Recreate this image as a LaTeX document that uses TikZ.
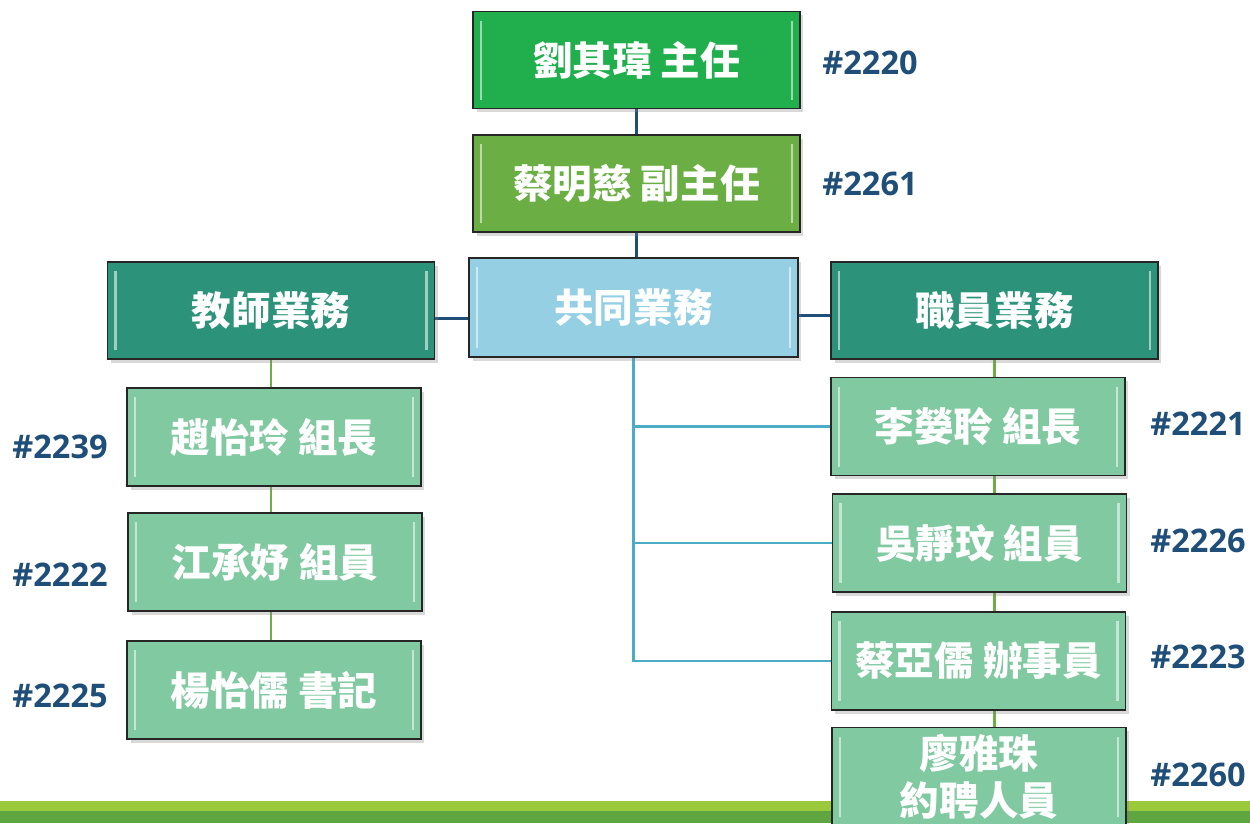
\documentclass[tikz,border=0pt]{standalone}
\usepackage{fontspec}
\usepackage{xcolor}
\usepackage{tikz}
\usetikzlibrary{shadows,backgrounds}
\newfontfamily\cjk{Noto Sans CJK TC}
\newfontfamily\numfont{Open Sans}
\definecolor{chiefgreen}{HTML}{21AF4E}
\definecolor{vicegreen}{HTML}{6BAE44}
\definecolor{commonblue}{HTML}{94CFE3}
\definecolor{deptteal}{HTML}{2C937A}
\definecolor{staffgreen}{HTML}{80C9A1}
\definecolor{navyline}{HTML}{1F4E79}
\definecolor{skyline}{HTML}{4BACC6}
\definecolor{barlight}{HTML}{9ACA3C}
\definecolor{bardark}{HTML}{5FA540}

\begin{document}
\begin{tikzpicture}[x=0.02cm,y=-0.02cm]
    \tikzstyle{box} = [draw=black!85,line width=0.8pt,text=white,inner sep=0pt,
        font=\cjk\bfseries\fontsize{22.5}{27}\selectfont,align=center,
        drop shadow={shadow xshift=0.07cm,shadow yshift=-0.07cm,opacity=0.3},
        path picture={
            \draw[white,opacity=0.55,line width=1.3pt]
                ([xshift=0.16cm,yshift=-0.18cm]path picture bounding box.north west) --
                ([xshift=0.16cm,yshift=0.18cm]path picture bounding box.south west);
            \draw[white,opacity=0.55,line width=1.3pt]
                ([xshift=-0.16cm,yshift=-0.18cm]path picture bounding box.north east) --
                ([xshift=-0.16cm,yshift=0.18cm]path picture bounding box.south east);
        }]
    \tikzstyle{head} = [box,minimum width=6.54cm,minimum height=1.94cm]
    \tikzstyle{member} = [box,fill=staffgreen,minimum width=5.88cm,minimum height=1.96cm]
    \tikzstyle{ext} = [font=\numfont\bfseries\fontsize{18.5}{22}\selectfont,text=navyline]
    \useasboundingbox (0,0) rectangle (1250,823);

    \node[head,fill=chiefgreen] at (636.5,60) (chief) {劉其瑋 主任};
    \node[head,fill=vicegreen] at (636.5,183.5) (vice) {蔡明慈 副主任};
    \node[head,fill=commonblue,minimum width=6.58cm,minimum height=1.98cm] at (633.5,307.5) (common) {共同業務};
    \node[head,fill=deptteal] at (271,310.5) (teacher) {教師業務};
    \node[head,fill=deptteal] at (994.5,310.5) (staff) {職員業務};

    \node[member] at (274,437) (zhao) {趙怡玲 組長};
    \node[member] at (275,562) (jiang) {江承妤 組員};
    \node[member] at (274,690) (yang) {楊怡儒 書記};

    \node[member] at (978,426.5) (li) {李嫈聆 組長};
    \node[member] at (979.5,543) (wu) {吳靜玟 組員};
    \node[member] at (978.5,661) (cai) {蔡亞儒 辦事員};
    \node[member] at (979,776.5) (liao) {廖雅珠\\約聘人員};

    \node[ext] at (870,63) (e2220) {\#2220};
    \node[ext] at (870,184) (e2261) {\#2261};
    \node[ext] at (60,447) (e2239) {\#2239};
    \node[ext] at (60,575) (e2222) {\#2222};
    \node[ext] at (60,696) (e2225) {\#2225};
    \node[ext] at (1198,424) (e2221) {\#2221};
    \node[ext] at (1198,541) (e2226) {\#2226};
    \node[ext] at (1198,657) (e2223) {\#2223};
    \node[ext] at (1198,775) (e2260) {\#2260};

    \begin{scope}[on background layer]
    % bottom bar
    \fill[barlight] (0,801) rectangle (1250,811);
    \fill[bardark] (0,811) rectangle (1250,823);

    \draw[navyline,line width=1.6pt] (chief) -- (vice);
    \draw[navyline,line width=1.6pt] (vice.south) -- (vice.south |- common.north);
    \draw[navyline,line width=1.6pt] ([yshift=-0.16cm]teacher.east) -- ([yshift=-0.16cm]teacher.east -| common.west);
    \draw[navyline,line width=1.6pt] ([yshift=-0.16cm]common.east) -- ([yshift=-0.16cm]common.east -| staff.west);

    \draw[vicegreen,line width=1.6pt] (teacher.south) -- (teacher.south |- yang.north);
    \draw[vicegreen,line width=1.6pt] (staff.south) -- (staff.south |- liao.north);

    \draw[skyline,line width=1.6pt] (common.south) |- (cai.west);
    \draw[skyline,line width=1.6pt] (common.south |- li.west) -- (li.west);
    \draw[skyline,line width=1.6pt] (common.south |- wu.west) -- (wu.west);
    \end{scope}
\end{tikzpicture}
\end{document}
